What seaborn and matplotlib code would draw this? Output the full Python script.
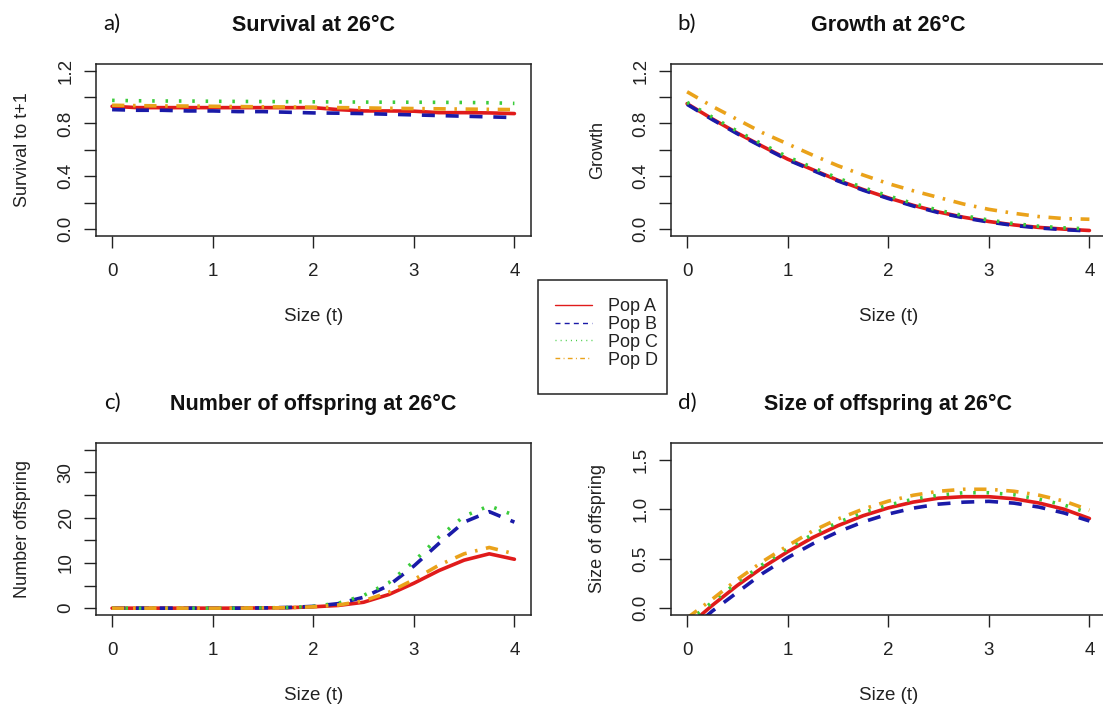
"""IPM vital-rate functions at 26 C for four populations (2x2 panel figure)."""

import matplotlib

matplotlib.use("Agg")
import matplotlib.pyplot as plt
import pandas as pd
import seaborn as sns
from matplotlib.lines import Line2D
from matplotlib.patches import Rectangle

sns.set_style("ticks")
plt.rcParams["font.family"] = ["Liberation Sans", "DejaVu Sans"]

POPS = ["Pop A", "Pop B", "Pop C", "Pop D"]
COLORS = {"Pop A": "#e01b1b", "Pop B": "#1a1aa8", "Pop C": "#3ccc3c", "Pop D": "#eaa21a"}
DASHES = {"Pop A": "", "Pop B": (3.6, 3.0), "Pop C": (0.7, 3.0), "Pop D": (3.4, 2.4, 0.7, 2.4)}

size_t = [0.0, 0.25, 0.5, 0.75, 1.0, 1.25, 1.5, 1.75, 2.0,
          2.25, 2.5, 2.75, 3.0, 3.25, 3.5, 3.75, 4.0]

# a) survival
surv_a = [0.93, 0.92, 0.92, 0.92, 0.92, 0.92, 0.92, 0.92, 0.92,
          0.905, 0.895, 0.895, 0.893, 0.882, 0.882, 0.88, 0.875]
surv_b = [0.905, 0.90, 0.90, 0.895, 0.895, 0.89, 0.89, 0.885, 0.88,
          0.878, 0.875, 0.87, 0.865, 0.86, 0.855, 0.85, 0.845]
surv_c = [0.975, 0.972, 0.97, 0.97, 0.968, 0.967, 0.966, 0.965, 0.964,
          0.963, 0.962, 0.961, 0.961, 0.96, 0.959, 0.957, 0.952]
surv_d = [0.938, 0.935, 0.933, 0.932, 0.93, 0.928, 0.926, 0.925, 0.923,
          0.92, 0.918, 0.915, 0.913, 0.911, 0.909, 0.907, 0.905]

# b) growth
grow_a = [0.95, 0.835, 0.727, 0.627, 0.53, 0.45, 0.37, 0.30, 0.237,
          0.18, 0.13, 0.09, 0.058, 0.032, 0.013, 0.0, -0.01]
grow_b = [0.945, 0.83, 0.722, 0.622, 0.525, 0.445, 0.365, 0.295, 0.232,
          0.175, 0.125, 0.086, 0.054, 0.028, 0.009, -0.004, -0.014]
grow_c = [0.96, 0.848, 0.742, 0.643, 0.547, 0.466, 0.386, 0.315, 0.252,
          0.194, 0.143, 0.102, 0.069, 0.042, 0.022, 0.01, 0.002]
grow_d = [1.04, 0.93, 0.83, 0.73, 0.645, 0.56, 0.48, 0.41, 0.345,
          0.29, 0.24, 0.19, 0.15, 0.12, 0.095, 0.08, 0.075]

# c) number of offspring
nof_a = [0.0, 0.0, 0.0, 0.0, 0.0, 0.0, 0.05, 0.1, 0.3,
         0.6, 1.3, 3.0, 5.5, 8.3, 10.6, 12.0, 10.8]
nof_b = [0.0, 0.0, 0.0, 0.0, 0.0, 0.0, 0.05, 0.15, 0.4,
         1.0, 2.4, 5.0, 9.3, 14.3, 19.0, 21.3, 19.0]
nof_c = [0.0, 0.0, 0.0, 0.0, 0.0, 0.0, 0.05, 0.15, 0.4,
         1.1, 2.8, 5.6, 10.3, 15.7, 20.3, 22.6, 20.5]
nof_d = [0.0, 0.0, 0.0, 0.0, 0.0, 0.0, 0.05, 0.1, 0.3,
         0.7, 1.6, 3.5, 6.3, 9.5, 12.0, 13.4, 12.0]

# d) size of offspring
sof_a = [-0.19, 0.028, 0.23, 0.41, 0.57, 0.713, 0.833, 0.933, 1.012,
         1.071, 1.11, 1.125, 1.125, 1.104, 1.061, 0.998, 0.905]
sof_b = [-0.25, -0.03, 0.16, 0.35, 0.51, 0.65, 0.77, 0.87, 0.95,
         1.01, 1.05, 1.07, 1.078, 1.06, 1.02, 0.96, 0.88]
sof_c = [-0.14, 0.06, 0.26, 0.44, 0.60, 0.745, 0.865, 0.965, 1.04,
         1.10, 1.14, 1.165, 1.165, 1.145, 1.10, 1.04, 0.96]
sof_d = [-0.10, 0.09, 0.29, 0.47, 0.63, 0.78, 0.90, 1.0, 1.08,
         1.14, 1.18, 1.20, 1.20, 1.18, 1.14, 1.08, 0.99]


def long_df(a, b, c, d):
    parts = []
    for pop, vals in zip(POPS, [a, b, c, d]):
        parts.append(pd.DataFrame({"size": size_t, "value": vals, "pop": pop}))
    return pd.concat(parts, ignore_index=True)


W, H = 1103, 707
fig = plt.figure(figsize=(W / 100, H / 100), dpi=100)


def add_axes(left_px, top_px, right_px, bottom_px):
    return fig.add_axes([left_px / W, 1 - bottom_px / H,
                         (right_px - left_px) / W, (bottom_px - top_px) / H])


panels = [
    # axes box, data, title, ylabel, ylim, yticks, yticklabels, letter
    ((96, 64.3, 530.5, 235.5), long_df(surv_a, surv_b, surv_c, surv_d),
     "Survival at 26°C", "Survival to t+1", (-0.048, 1.248),
     [0, 0.2, 0.4, 0.6, 0.8, 1.0, 1.2], ["0.0", "", "0.4", "", "0.8", "", "1.2"], "a)"),
    ((671, 64.3, 1105.5, 235.5), long_df(grow_a, grow_b, grow_c, grow_d),
     "Growth at 26°C", "Growth", (-0.048, 1.248),
     [0, 0.2, 0.4, 0.6, 0.8, 1.0, 1.2], ["0.0", "", "0.4", "", "0.8", "", "1.2"], "b)"),
    ((96, 443.3, 530.5, 614.5), long_df(nof_a, nof_b, nof_c, nof_d),
     "Number of offspring at 26°C", "Number offspring", (-1.4, 36.4),
     [0, 5, 10, 15, 20, 25, 30, 35], ["0", "", "10", "", "20", "", "30", ""], "c)"),
    ((671, 443.3, 1105.5, 614.5), long_df(sof_a, sof_b, sof_c, sof_d),
     "Size of offspring at 26°C", "Size of offspring", (-0.064, 1.664),
     [0, 0.5, 1.0, 1.5], ["0.0", "0.5", "1.0", "1.5"], "d)"),
]

for box, df, title, ylabel, ylim, yticks, yticklabels, letter in panels:
    ax = add_axes(*box)
    sns.lineplot(data=df, x="size", y="value", hue="pop", style="pop",
                 hue_order=POPS, style_order=POPS, palette=COLORS, dashes=DASHES,
                 estimator=None, sort=False, linewidth=2.6, legend=False, ax=ax)
    ax.set_xlim(-0.16, 4.16)
    ax.set_ylim(*ylim)
    ax.set_xticks([0, 1, 2, 3, 4])
    ax.set_yticks(yticks)
    ax.set_yticklabels(yticklabels)
    for lbl in ax.get_yticklabels():
        lbl.set_rotation(90)
        lbl.set_va("center")
    ax.tick_params(length=8.4, width=1.0, color="#222222", labelsize=13.5,
                   labelcolor="#222222")
    ax.tick_params(axis="x", pad=11.5)
    ax.tick_params(axis="y", pad=7)
    for sp in ax.spines.values():
        sp.set_visible(True)
        sp.set_linewidth(1.1)
        sp.set_color("#222222")
    ax.set_xlabel("Size (t)", fontsize=13.5, labelpad=20, color="#222222")
    ax.set_ylabel(ylabel, fontsize=13, labelpad=19, color="#222222")
    ax.set_title(title, fontsize=15.5, fontweight="bold", pad=24, color="#111111")
    ax.text(0.037, 1.235, letter, transform=ax.transAxes, ha="center", va="center",
            fontsize=16, family=["Lato", "DejaVu Sans"], color="#111111")

# legend between the panels, thin lines like the R legend
handles = []
for p in POPS:
    h = Line2D([0], [0], color=COLORS[p], linewidth=1.0)
    if DASHES[p]:
        h.set_dashes(DASHES[p])
    handles.append(h)
fig.add_artist(Rectangle((538 / W, 1 - 394 / H), 129 / W, 114 / H,
                         transform=fig.transFigure, fill=False,
                         edgecolor="#222222", linewidth=1.1))
fig.legend(handles, POPS, loc="upper left", bbox_to_anchor=(555 / W, 1 - 298 / H),
           frameon=False, borderpad=0, borderaxespad=0, fontsize=13,
           handlelength=2.05, handletextpad=0.9, labelspacing=0.05,
           labelcolor="#222222")

fig.savefig("out.png", dpi=100)
